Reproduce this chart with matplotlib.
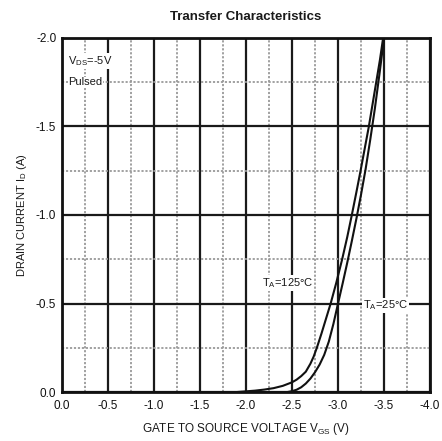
import matplotlib
matplotlib.use("Agg")
import matplotlib.pyplot as plt
from matplotlib.ticker import MultipleLocator

plt.rcParams['font.family'] = ['Liberation Sans', 'DejaVu Sans']
plt.rcParams['axes.unicode_minus'] = False

# Data (Vgs in V, Id in A)
vgs_125 = [0.0, -1.9, -2.0, -2.1, -2.2, -2.3, -2.4, -2.5, -2.55, -2.6, -2.65, -2.7,
           -2.735, -2.77, -2.82, -2.87, -2.92, -2.98, -3.045, -3.10, -3.15, -3.20,
           -3.245, -3.29, -3.335, -3.375, -3.415, -3.455, -3.49]
id_125 = [0.0, 0.0, -0.004, -0.008, -0.014, -0.022, -0.035, -0.055, -0.07, -0.09, -0.115, -0.16,
          -0.2, -0.25, -0.33, -0.415, -0.5, -0.615, -0.75, -0.875, -1.0, -1.13,
          -1.25, -1.375, -1.5, -1.625, -1.75, -1.875, -2.0]

vgs_25 = [0.0, -2.45, -2.5, -2.55, -2.6, -2.65, -2.7, -2.75, -2.8, -2.85, -2.9,
          -2.95, -3.0, -3.05, -3.1, -3.15, -3.2, -3.25, -3.3, -3.35, -3.4, -3.45, -3.5]
id_25 = [0.0, 0.0, -0.005, -0.013, -0.027, -0.048, -0.076, -0.112, -0.155, -0.21, -0.285,
         -0.385, -0.5, -0.613, -0.73, -0.853, -0.98, -1.115, -1.26, -1.425, -1.6, -1.795, -2.0]

xticks = [0.0, -0.5, -1.0, -1.5, -2.0, -2.5, -3.0, -3.5, -4.0]
yticks = [0.0, -0.5, -1.0, -1.5, -2.0]

fig = plt.figure(figsize=(4.42, 4.41), dpi=100)
ax = fig.add_axes([0.140, 0.111, 0.833, 0.803])

ax.set_xlim(0, -4.0)
ax.set_ylim(0, -2.0)
ax.set_xticks(xticks)
ax.set_yticks(yticks)
ax.set_xticklabels([f"{v:.1f}" for v in xticks])
ax.set_yticklabels([f"{v:.1f}" for v in yticks])
ax.xaxis.set_minor_locator(MultipleLocator(0.25))
ax.yaxis.set_minor_locator(MultipleLocator(0.25))

ax.grid(which='major', color='#1a1a1a', linestyle='-', linewidth=1.6)
ax.grid(which='minor', color='#9a9a9a', linestyle=(0, (1.2, 1.0)), linewidth=1.3)
ax.set_axisbelow(True)
ax.tick_params(which='both', length=0, labelsize=8.5, colors='#111111')
ax.tick_params(axis='x', pad=6)
ax.tick_params(axis='y', pad=4)

for sp in ax.spines.values():
    sp.set_linewidth(2.0)
    sp.set_color('#111111')

ax.plot(vgs_125, id_125, color='#111111', linewidth=1.5)
ax.plot(vgs_25, id_25, color='#111111', linewidth=1.5)

ax.set_title("Transfer Characteristics", fontsize=9.5, fontweight='bold', pad=13,
             color='#1a1a1a')
ax.set_xlabel("GATE TO SOURCE VOLTAGE V$_{\\mathregular{GS}}$ (V)", fontsize=8.5,
              color='#1a1a1a', labelpad=6)
ax.set_ylabel("DRAIN CURRENT I$_{\\mathregular{D}}$ (A)", fontsize=8,
              color='#1a1a1a', labelpad=5)

bbox = dict(facecolor='white', edgecolor='none', pad=0.5)
ax.text(-0.07, -1.87, "V$_{\\mathregular{DS}}$=-5V", fontsize=8, color='#1a1a1a',
        ha='left', va='center', bbox=bbox)
ax.text(-0.07, -1.75, "Pulsed", fontsize=8, color='#1a1a1a', ha='left', va='center',
        bbox=bbox)
ax.text(-2.17, -0.616, "T$_{\\mathregular{A}}$=125°C", fontsize=8, color='#1a1a1a',
        ha='left', va='center', bbox=bbox)
ax.text(-3.27, -0.49, "T$_{\\mathregular{A}}$=25°C", fontsize=8, color='#1a1a1a',
        ha='left', va='center', bbox=bbox)

fig.savefig("out.png", dpi=100)
